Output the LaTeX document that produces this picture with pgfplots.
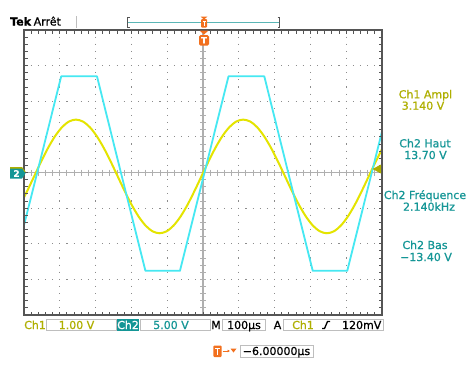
\documentclass[border=0pt]{standalone}
\usepackage{pgfplots}
\pgfplotsset{compat=1.18}
\usetikzlibrary{arrows.meta}
\usepackage{fontspec}
\setmainfont{DejaVu Sans}[FakeBold=0.8]
\definecolor{tyel}{RGB}{228,228,0}
\definecolor{tol}{RGB}{175,175,0}
\definecolor{tcy}{RGB}{70,232,242}
\definecolor{tteal}{RGB}{20,150,150}
\definecolor{torg}{RGB}{242,112,30}
\definecolor{tgrid}{RGB}{140,140,140}
\definecolor{tctr}{RGB}{175,175,175}
\definecolor{tbord}{RGB}{85,85,85}
\definecolor{tbox}{RGB}{190,190,190}
\begin{document}
\fontsize{11bp}{12bp}\selectfont
\begin{tikzpicture}
\begin{scope}[x=1bp,y=-1bp]
\useasboundingbox (0,0) rectangle (473,365);
\fill[white] (0,0) rectangle (473,365);
% dotted grid
\foreach \i in {1,2,3,4,6,7,8,9}{
  \draw[tgrid, line width=1.1bp, dash pattern=on 1.1bp off 6.025bp, dash phase=0.55bp] ({24+35.8*\i},30) -- ({24+35.8*\i},315);}
\foreach \j in {1,2,3,5,6,7}{
  \draw[tgrid, line width=1.1bp, dash pattern=on 1.1bp off 6.06bp, dash phase=0.55bp] (24,{30+35.625*\j}) -- (382,{30+35.625*\j});}
% centre lines
\draw[tctr, line width=1.3bp] (24,172.5) -- (382,172.5);
\draw[tctr, line width=1.3bp] (203,30) -- (203,315);
\foreach \k in {1,...,49}{\draw[tctr, line width=1bp] ({24+7.16*\k},169.5) -- ({24+7.16*\k},175.5);}
\foreach \k in {1,...,39}{\draw[tctr, line width=1bp] (200,{30+7.125*\k}) -- (206,{30+7.125*\k});}
\end{scope}

\begin{axis}[at={(24bp,-315bp)}, anchor=south west, scale only axis,
  width=358bp, height=285bp, xmin=-500, xmax=500, ymin=-4, ymax=4, hide axis]
\addplot[tyel, line width=2bp, smooth] coordinates {
(-510.7,-0.908) (-491.3,-0.523) (-471.8,-0.110) (-452.3,0.303) (-432.9,0.688)
(-413.4,1.018) (-393.9,1.271) (-374.5,1.431) (-355.0,1.485) (-335.5,1.431)
(-316.0,1.271) (-296.6,1.018) (-277.1,0.688) (-257.6,0.303) (-238.2,-0.110)
(-218.7,-0.523) (-199.2,-0.908) (-179.7,-1.238) (-160.3,-1.491) (-140.8,-1.651)
(-121.3,-1.705) (-101.9,-1.651) (-82.4,-1.491) (-62.9,-1.238) (-43.4,-0.908)
(-24.0,-0.523) (-4.5,-0.110) (15.0,0.303) (34.4,0.688) (53.9,1.018)
(73.4,1.271) (92.9,1.431) (112.3,1.485) (131.8,1.431) (151.3,1.271)
(170.7,1.018) (190.2,0.688) (209.7,0.303) (229.2,-0.110) (248.6,-0.523)
(268.1,-0.908) (287.6,-1.238) (307.0,-1.491) (326.5,-1.651) (346.0,-1.705)
(365.4,-1.651) (384.9,-1.491) (404.4,-1.238) (423.9,-0.908) (443.3,-0.523)
(462.8,-0.110) (482.3,0.303) (501.7,0.688)};
\addplot[tcy, line width=1.8bp, line join=round] coordinates {
(-500,-1.48) (-463.1,0) (-396.1,2.70) (-296.1,2.70) (-229.4,0)
(-160.8,-2.76) (-64.4,-2.76) (4.2,0) (71.2,2.70) (171.2,2.70)
(237.9,0) (306.5,-2.76) (402.9,-2.76) (471.5,0) (500,1.15)};
\end{axis}

\begin{scope}[x=1bp,y=-1bp]
% border and ticks
\draw[tbord, line width=2bp] (24,30) rectangle (382,315);
\foreach \k in {1,...,49}{
  \draw[tbord, line width=1bp] ({24+7.16*\k},30) -- ({24+7.16*\k},33.5);
  \draw[tbord, line width=1bp] ({24+7.16*\k},315) -- ({24+7.16*\k},311.5);}
\foreach \k in {1,...,39}{
  \draw[tbord, line width=1bp] (24,{30+7.125*\k}) -- (27.5,{30+7.125*\k});
  \draw[tbord, line width=1bp] (382,{30+7.125*\k}) -- (378.5,{30+7.125*\k});}
% top bar
\node[anchor=base west, inner sep=0] at (10,25.5) {\bfseries Tek};
\node[anchor=base west, inner sep=0] at (33.5,25.5) {Arrêt};
\draw[tbox, line width=1bp] (76,16) -- (76,28);
\draw[tteal!70, line width=1.2bp] (127.5,22.5) -- (279.5,22.5);
\draw[tbord, line width=1bp] (129.5,17) -- (127.5,17) -- (127.5,27) -- (129.5,27);
\draw[tbord, line width=1bp] (277.5,17) -- (279.5,17) -- (279.5,27) -- (277.5,27);
\fill[torg] (200.5,16.5) -- (207.5,16.5) -- (204,19.5) -- cycle;
\fill[torg, rounded corners=1bp] (201,19) rectangle (207,27.5);
\draw[white, line width=1bp] (202.5,21) -- (205.5,21) (204,21) -- (204,26);
% trigger marker below top border
\fill[torg] (199.5,30.5) -- (208.5,30.5) -- (204,34.5) -- cycle;
\fill[torg, rounded corners=1.5bp] (199,35) rectangle (209,45.5);
\node[white, inner sep=0, font=\fontsize{8.5bp}{9bp}\selectfont\bfseries] at (204,40.3) {T};
% channel markers
\fill[tol] (10,167) -- (22,167) -- (25.5,171.5) -- (22,176.5) -- (10,176.5) -- cycle;
\fill[tteal] (10,168.5) -- (22,168.5) -- (25.5,173.5) -- (22,178.5) -- (10,178.5) -- cycle;
\node[white, inner sep=0, font=\fontsize{9bp}{10bp}\selectfont\bfseries] at (16.5,173.5) {2};
\fill[tol] (372.5,169) -- (381,164.5) -- (381,173.5) -- cycle;
% right measurements
\node[anchor=base, text=tol, inner sep=0] at (425.5,98.3) {Ch1 Ampl};
\node[anchor=base, text=tol, inner sep=0] at (423,109.7) {3.140 V};
\node[anchor=base, text=tteal, inner sep=0] at (425,147.3) {Ch2 Haut};
\node[anchor=base, text=tteal, inner sep=0] at (425.5,159) {13.70 V};
\node[anchor=base, text=tteal, inner sep=0] at (425,199) {Ch2 Fréquence};
\node[anchor=base, text=tteal, inner sep=0] at (429,210.7) {2.140kHz};
\node[anchor=base, text=tteal, inner sep=0] at (425,249) {Ch2 Bas};
\node[anchor=base, text=tteal, inner sep=0] at (426,261) {−13.40 V};
% bottom bar
\node[anchor=base west, text=tol, inner sep=0] at (24,329) {Ch1};
\draw[tbox, line width=1bp, fill=white] (46.7,319.3) rectangle (116,330.7);
\node[anchor=base, text=tol, inner sep=0] at (76.5,329) {1.00 V};
\fill[tteal] (116.7,319.3) rectangle (139.3,330.7);
\node[anchor=base, text=white, inner sep=0] at (128,329) {Ch2};
\draw[tbox, line width=1bp] (140.3,319.3) rectangle (210.7,330.7);
\node[anchor=base, text=tteal, inner sep=0] at (171,329) {5.00 V};
\node[anchor=base, inner sep=0] at (216,329) {M};
\draw[tbox, line width=1bp] (222,319.3) rectangle (265,330.7);
\node[anchor=base, inner sep=0] at (244,329) {100µs};
\node[anchor=base, inner sep=0] at (277.5,329) {A};
\draw[tbox, line width=1bp] (283.3,319.3) rectangle (383.3,330.7);
\node[anchor=base, text=tol, inner sep=0] at (303,329) {Ch1};
\draw[black, line width=1.3bp] (322,328.5) -- (324.5,328.5) -- (327.5,321.5) -- (330,321.5);
\node[anchor=base east, inner sep=0] at (381.5,329) {120mV};
% bottom trigger offset
\fill[torg, rounded corners=1bp] (213.3,345.5) rectangle (221.7,357);
\draw[white, line width=1bp] (215,348) -- (220,348) (217.5,348) -- (217.5,355);
\draw[torg, line width=1bp, -{Latex[length=2.5bp,width=3bp]}] (222.5,351) -- (230,351);
\fill[torg] (230.5,348.5) -- (236.5,348.5) -- (233.5,352.5) -- cycle;
\draw[tbox, line width=1bp] (240,345) rectangle (313.3,357.3);
\node[anchor=base, inner sep=0] at (276.5,355) {−6.00000µs};
\end{scope}
\end{tikzpicture}
\end{document}
